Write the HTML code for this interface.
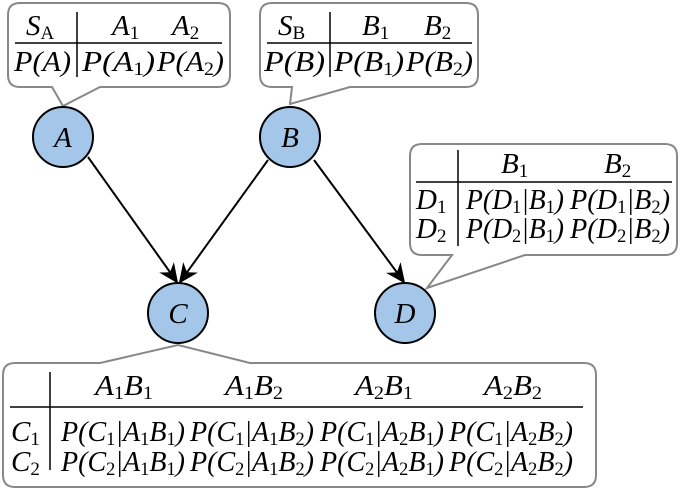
<!DOCTYPE html>
<html><head><meta charset="utf-8"><style>
html,body{margin:0;padding:0;background:#fff;}
svg{display:block;}
text{font-family:"Liberation Serif","Times New Roman","DejaVu Serif",serif;font-style:italic;font-size:29px;fill:#000;}
.s{font-style:normal;font-size:19px;}
</style></head><body>
<svg width="685" height="490" viewBox="0 0 685 490" xmlns="http://www.w3.org/2000/svg" font-family="Liberation Serif, serif">
<defs>
<marker id="ar" viewBox="0 0 20 20" refX="18" refY="10" markerWidth="20" markerHeight="20" markerUnits="userSpaceOnUse" orient="auto">
<path d="M0,1 L20,10 L0,19 L6,10 Z" fill="#000"/>
</marker>
</defs>
<g fill="#fff" stroke="#888" stroke-width="2">
<path d="M20,3 H218 Q230,3 230,15 V75 Q230,87 218,87 H100 L63,106 L52,87 H20 Q8,87 8,75 V15 Q8,3 20,3 Z"/>
<path d="M272,3 H466 Q478,3 478,15 V75 Q478,87 466,87 H350 L290,104 L292,87 H272 Q260,87 260,75 V15 Q260,3 272,3 Z"/>
<path d="M422,144 H665 Q677,144 677,156 V243 Q677,255 665,255 H525 L427,288 L452,255 H422 Q410,255 410,243 V156 Q410,144 422,144 Z"/>
<path d="M15,363 H100 L178,345 L250,363 H584 Q596,363 596,375 V475 Q596,487 584,487 H15 Q3,487 3,475 V375 Q3,363 15,363 Z"/>
</g>
<g stroke="#000" stroke-width="2">
<line x1="88" y1="157" x2="177" y2="282" marker-end="url(#ar)"/>
<line x1="268" y1="160" x2="180" y2="282" marker-end="url(#ar)"/>
<line x1="314" y1="160" x2="404" y2="282" marker-end="url(#ar)"/>
</g>
<g fill="#a3c6e9" stroke="#000" stroke-width="2">
<circle cx="63" cy="137" r="30"/>
<circle cx="290" cy="137" r="30"/>
<circle cx="178" cy="313" r="30"/>
<circle cx="405" cy="313" r="30"/>
</g>
<g text-anchor="middle">
<text x="63" y="147">A</text>
<text x="290" y="147">B</text>
<text x="178" y="323">C</text>
<text x="405" y="323">D</text>
</g>
<g stroke="#000" stroke-width="1.5">
<line x1="15" y1="43" x2="222" y2="43"/><line x1="77" y1="12" x2="77" y2="77"/>
<line x1="267" y1="43" x2="472" y2="43"/><line x1="330" y1="12" x2="330" y2="77"/>
<line x1="416" y1="182" x2="672" y2="182"/><line x1="458" y1="150" x2="458" y2="246"/>
<line x1="10" y1="407" x2="583" y2="407"/><line x1="50" y1="372" x2="50" y2="470"/>
</g>
<!-- table A -->
<text x="26" y="35">S<tspan class="s" dy="4">A</tspan></text>
<text x="112" y="35">A<tspan class="s" dy="4">1</tspan></text>
<text x="172" y="35">A<tspan class="s" dy="4">2</tspan></text>
<text x="14" y="71" textLength="57" lengthAdjust="spacingAndGlyphs">P(A)</text>
<text x="82" y="71" textLength="73" lengthAdjust="spacingAndGlyphs">P(A<tspan class="s" dy="4">1</tspan><tspan dy="-4">)</tspan></text>
<text x="157" y="71" textLength="67" lengthAdjust="spacingAndGlyphs">P(A<tspan class="s" dy="4">2</tspan><tspan dy="-4">)</tspan></text>
<!-- table B -->
<text x="278" y="35">S<tspan class="s" dy="4">B</tspan></text>
<text x="362" y="35">B<tspan class="s" dy="4">1</tspan></text>
<text x="424" y="35">B<tspan class="s" dy="4">2</tspan></text>
<text x="264" y="71" textLength="61" lengthAdjust="spacingAndGlyphs">P(B)</text>
<text x="334" y="71" textLength="70" lengthAdjust="spacingAndGlyphs">P(B<tspan class="s" dy="4">1</tspan><tspan dy="-4">)</tspan></text>
<text x="406" y="71" textLength="67" lengthAdjust="spacingAndGlyphs">P(B<tspan class="s" dy="4">2</tspan><tspan dy="-4">)</tspan></text>
<!-- table D -->
<text x="501" y="173">B<tspan class="s" dy="4">1</tspan></text>
<text x="604" y="173">B<tspan class="s" dy="4">2</tspan></text>
<text x="416" y="209">D<tspan class="s" dy="4">1</tspan></text>
<text x="416" y="238">D<tspan class="s" dy="4">2</tspan></text>
<text x="466" y="209" textLength="98" lengthAdjust="spacingAndGlyphs">P(D<tspan class="s" dy="4">1</tspan><tspan dy="-4">|B</tspan><tspan class="s" dy="4">1</tspan><tspan dy="-4">)</tspan></text>
<text x="570" y="209" textLength="100" lengthAdjust="spacingAndGlyphs">P(D<tspan class="s" dy="4">1</tspan><tspan dy="-4">|B</tspan><tspan class="s" dy="4">2</tspan><tspan dy="-4">)</tspan></text>
<text x="466" y="238" textLength="98" lengthAdjust="spacingAndGlyphs">P(D<tspan class="s" dy="4">2</tspan><tspan dy="-4">|B</tspan><tspan class="s" dy="4">1</tspan><tspan dy="-4">)</tspan></text>
<text x="570" y="238" textLength="100" lengthAdjust="spacingAndGlyphs">P(D<tspan class="s" dy="4">2</tspan><tspan dy="-4">|B</tspan><tspan class="s" dy="4">2</tspan><tspan dy="-4">)</tspan></text>
<!-- table C -->
<text x="95" y="395" textLength="58" lengthAdjust="spacingAndGlyphs">A<tspan class="s" dy="4">1</tspan><tspan dy="-4">B</tspan><tspan class="s" dy="4">1</tspan></text>
<text x="225" y="395" textLength="58" lengthAdjust="spacingAndGlyphs">A<tspan class="s" dy="4">1</tspan><tspan dy="-4">B</tspan><tspan class="s" dy="4">2</tspan></text>
<text x="355" y="395" textLength="58" lengthAdjust="spacingAndGlyphs">A<tspan class="s" dy="4">2</tspan><tspan dy="-4">B</tspan><tspan class="s" dy="4">1</tspan></text>
<text x="484" y="395" textLength="58" lengthAdjust="spacingAndGlyphs">A<tspan class="s" dy="4">2</tspan><tspan dy="-4">B</tspan><tspan class="s" dy="4">2</tspan></text>
<text x="11" y="441">C<tspan class="s" dy="4">1</tspan></text>
<text x="11" y="471">C<tspan class="s" dy="4">2</tspan></text>
<text x="61" y="441" textLength="124" lengthAdjust="spacingAndGlyphs">P(C<tspan class="s" dy="4">1</tspan><tspan dy="-4">|A</tspan><tspan class="s" dy="4">1</tspan><tspan dy="-4">B</tspan><tspan class="s" dy="4">1</tspan><tspan dy="-4">)</tspan></text>
<text x="190" y="441" textLength="124" lengthAdjust="spacingAndGlyphs">P(C<tspan class="s" dy="4">1</tspan><tspan dy="-4">|A</tspan><tspan class="s" dy="4">1</tspan><tspan dy="-4">B</tspan><tspan class="s" dy="4">2</tspan><tspan dy="-4">)</tspan></text>
<text x="320" y="441" textLength="124" lengthAdjust="spacingAndGlyphs">P(C<tspan class="s" dy="4">1</tspan><tspan dy="-4">|A</tspan><tspan class="s" dy="4">2</tspan><tspan dy="-4">B</tspan><tspan class="s" dy="4">1</tspan><tspan dy="-4">)</tspan></text>
<text x="449" y="441" textLength="124" lengthAdjust="spacingAndGlyphs">P(C<tspan class="s" dy="4">1</tspan><tspan dy="-4">|A</tspan><tspan class="s" dy="4">2</tspan><tspan dy="-4">B</tspan><tspan class="s" dy="4">2</tspan><tspan dy="-4">)</tspan></text>
<text x="61" y="471" textLength="124" lengthAdjust="spacingAndGlyphs">P(C<tspan class="s" dy="4">2</tspan><tspan dy="-4">|A</tspan><tspan class="s" dy="4">1</tspan><tspan dy="-4">B</tspan><tspan class="s" dy="4">1</tspan><tspan dy="-4">)</tspan></text>
<text x="190" y="471" textLength="124" lengthAdjust="spacingAndGlyphs">P(C<tspan class="s" dy="4">2</tspan><tspan dy="-4">|A</tspan><tspan class="s" dy="4">1</tspan><tspan dy="-4">B</tspan><tspan class="s" dy="4">2</tspan><tspan dy="-4">)</tspan></text>
<text x="320" y="471" textLength="124" lengthAdjust="spacingAndGlyphs">P(C<tspan class="s" dy="4">2</tspan><tspan dy="-4">|A</tspan><tspan class="s" dy="4">2</tspan><tspan dy="-4">B</tspan><tspan class="s" dy="4">1</tspan><tspan dy="-4">)</tspan></text>
<text x="449" y="471" textLength="124" lengthAdjust="spacingAndGlyphs">P(C<tspan class="s" dy="4">2</tspan><tspan dy="-4">|A</tspan><tspan class="s" dy="4">2</tspan><tspan dy="-4">B</tspan><tspan class="s" dy="4">2</tspan><tspan dy="-4">)</tspan></text>
</svg>
</body></html>
